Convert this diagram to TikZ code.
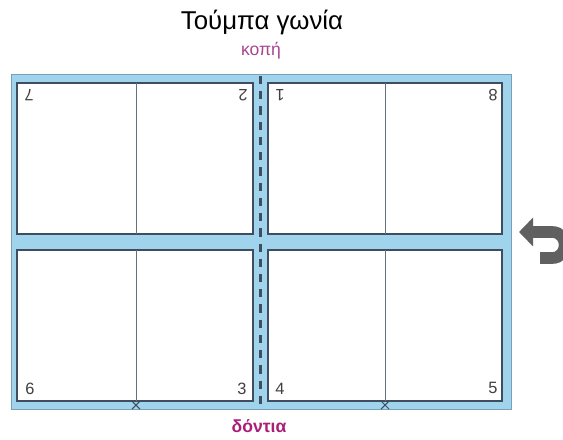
\documentclass[tikz,border=0pt]{standalone}
\usepackage{fontspec}
\setmainfont{Liberation Sans}
\usepackage{tikz}
\usetikzlibrary{arrows.meta}

\definecolor{bandablu}{RGB}{160,212,236}
\definecolor{bordoblu}{RGB}{120,160,185}
\definecolor{linea}{RGB}{62,78,96}
\definecolor{magenta}{RGB}{170,30,120}
\definecolor{viola}{RGB}{165,70,145}

\begin{document}
\begin{tikzpicture}[x=0.03cm, y=-0.03cm, >=latex]
        % Stili
        \tikzstyle{banda} = [fill=bandablu, draw=bordoblu, line width=0.6pt]
        \tikzstyle{pagina} = [fill=white, draw=linea, line width=1.6pt]
        \tikzstyle{piega} = [draw=linea!80, line width=0.6pt]
        \tikzstyle{numero} = [font=\fontsize{14}{14}\selectfont, text=black!75, inner sep=0pt]
        \tikzstyle{capovolto} = [numero, rotate=180]
        \tikzstyle{segno} = [draw=linea, line width=0.9pt]

        \useasboundingbox (0,0) rectangle (563,439);

        % Cornice
        \path [banda] (11,74) rectangle (511,409);

        % Pagine
        \path [pagina] (17,83) rectangle (253,234);
        \path [pagina] (268,83) rectangle (502,234);
        \path [pagina] (17,250) rectangle (253,401);
        \path [pagina] (268,250) rectangle (502,401);
        \draw [piega] (136,83) -- (136,234);
        \draw [piega] (385,83) -- (385,234);
        \draw [piega] (136,250) -- (136,401);
        \draw [piega] (385,250) -- (385,401);

        % Taglio centrale
        \draw [linea, line width=2.2pt, dash pattern=on 7pt off 6pt] (260.5,76) -- (260.5,408);

        % Segni di piega
        \draw [segno] (132,401) -- (140,409) (140,401) -- (132,409);
        \draw [segno] (381,401) -- (389,409) (389,401) -- (381,409);

        % Testi
        \node (titolo) at (262,22) {\fontsize{22}{22}\selectfont Τούμπα γωνία};
        \node [text=viola] (kopi) at (261,51) {\fontsize{15}{15}\selectfont κοπή};
        \node [text=magenta] (dontia) at (259,426) {\fontsize{15}{15}\selectfont\bfseries δόντια};

        % Numeri
        \node [capovolto] (p7) at (29,95) {7};
        \node [capovolto] (p2) at (243,95) {2};
        \node [capovolto] (p1) at (280,95) {1};
        \node [capovolto] (p8) at (493,95) {8};
        \node [numero] (p6) at (30,389) {6};
        \node [numero] (p3) at (242,389) {3};
        \node [numero] (p4) at (280,389) {4};
        \node [numero] (p5) at (493,388) {5};

        % Freccia
        \coordinate (coda) at (540,258);
        \coordinate (punta) at (519,232);
        \draw [gray!75!black, line width=10pt, -{Triangle[width=24pt, length=12pt]}]
            (coda) -- (552,258) .. controls (569,258) and (569,232) .. (552,232) -- (punta);
\end{tikzpicture}
\end{document}
